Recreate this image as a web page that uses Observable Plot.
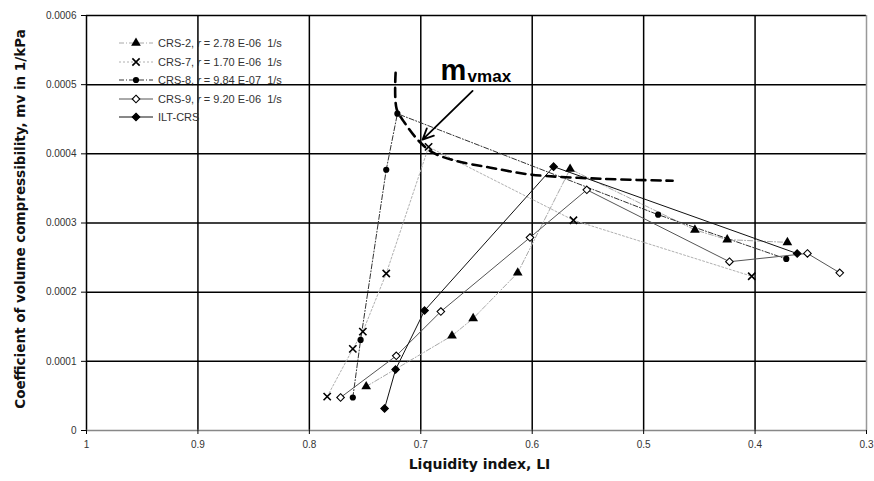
<!DOCTYPE html>
<html>
<head>
<meta charset="utf-8">
<script src="https://cdn.jsdelivr.net/npm/d3@7"></script>
<script src="https://cdn.jsdelivr.net/npm/@observablehq/plot@0.6"></script>
<style>
  html, body { margin: 0; padding: 0; background: #fff; }
  #wrap { position: relative; width: 874px; height: 481px; overflow: hidden; }
  #legend { position: absolute; left: 118px; top: 34px; font-family: "Liberation Sans", Arial, sans-serif; font-size: 11px; color: #333; }
  #legend .row { display: flex; align-items: center; height: 18.5px; white-space: pre; }
  #legend svg { display: block; margin-right: 4px; }
</style>
</head>
<body>
<div id="wrap"><div id="legend"></div></div>
<script>
// ---- axis ticks ----
const xTickValues = [1, 0.9, 0.8, 0.7, 0.6, 0.5, 0.4, 0.3];
const xTickLabels = ["1", "0.9", "0.8", "0.7", "0.6", "0.5", "0.4", "0.3"];
const yTickValues = [0, 0.0001, 0.0002, 0.0003, 0.0004, 0.0005, 0.0006];
const yTickLabels = ["0", "0.0001", "0.0002", "0.0003", "0.0004", "0.0005", "0.0006"];

// ---- series (liquidity index, coefficient of volume compressibility) ----
const crs2LI = [0.749, 0.672, 0.653, 0.613, 0.566, 0.454, 0.425, 0.371];
const crs2Mv = [0.0000636, 0.000137, 0.000162, 0.000228, 0.000378, 0.000290, 0.000276, 0.000272];
const crs7LI = [0.784, 0.761, 0.752, 0.731, 0.693, 0.563, 0.403];
const crs7Mv = [0.000049, 0.000118, 0.000143, 0.000227, 0.000410, 0.000304, 0.000223];
const crs8LI = [0.761, 0.754, 0.731, 0.721, 0.487, 0.372];
const crs8Mv = [0.0000477, 0.000131, 0.000377, 0.000458, 0.000312, 0.000248];
const crs9LI = [0.772, 0.722, 0.682, 0.602, 0.551, 0.423, 0.353, 0.324];
const crs9Mv = [0.0000477, 0.000108, 0.000172, 0.000279, 0.000348, 0.000244, 0.000256, 0.000228];
const iltLI = [0.7325, 0.7226, 0.6966, 0.5808, 0.3622];
const iltMv = [0.0000318, 0.0000881, 0.0001734, 0.0003815, 0.0002558];

// ---- hand-drawn mv_max envelope (dashed) ----
const envLI = [0.7226, 0.7217, 0.7145, 0.702, 0.6894, 0.6688, 0.6373, 0.6014, 0.5386, 0.474];
const envMv = [0.000517, 0.000465, 0.000445, 0.000419, 0.000402, 0.00039, 0.00038, 0.00037, 0.000364, 0.000361];

// ---- annotation ----
const arrowFrom = [0.6535, 0.000491];
const arrowTo = [0.6984, 0.0004205];
const labelAt = [0.6822, 0.000507];

// ---- legend text ----
const seriesNames = ["CRS-2", "CRS-7", "CRS-8", "CRS-9", "ILT-CRS"];
const seriesRates = ["2.78 E-06", "1.70 E-06", "9.84 E-07", "9.20 E-06", null];

const styles = [
  {stroke: "#a8a8a8", dash: "5,2,1,2", symbol: "triangle", fill: "black", mstroke: "none", r: 3.6},
  {stroke: "#b0b0b0", dash: "2,2", symbol: "times", fill: "none", mstroke: "black", r: 3.4},
  {stroke: "#333", dash: "5,2,1,2", symbol: "circle", fill: "black", mstroke: "none", r: 3.1},
  {stroke: "#555", dash: null, symbol: "diamond2", fill: "white", mstroke: "black", r: 3.4},
  {stroke: "#111", dash: null, symbol: "diamond2", fill: "black", mstroke: "black", r: 3.4}
];

const series = [
  [crs2LI, crs2Mv], [crs7LI, crs7Mv], [crs8LI, crs8Mv], [crs9LI, crs9Mv], [iltLI, iltMv]
].map(([li, mv], i) => li.map((d, j) => ({li: d, mv: mv[j], s: seriesNames[i]})));
const env = envLI.map((d, i) => ({li: d, mv: envMv[i]}));

const marks = [
  Plot.gridX(xTickValues.slice(1, -1), {stroke: "black", strokeOpacity: 1, strokeWidth: 1.5}),
  Plot.gridY(yTickValues.slice(1), {stroke: "black", strokeOpacity: 1, strokeWidth: 1.5}),
  Plot.ruleX([xTickValues[xTickValues.length - 1]], {stroke: "#999", strokeWidth: 1.5}),
  Plot.ruleX([xTickValues[0]], {stroke: "black", strokeWidth: 1.5}),
  Plot.ruleY([yTickValues[0]], {stroke: "#888", strokeWidth: 1.5}),
  Plot.axisX({ticks: xTickValues, tickFormat: (d) => xTickLabels[xTickValues.indexOf(d)], tickSize: 4, tickPadding: 6, fontSize: 10, label: null, fill: "#333"}),
  Plot.axisY({ticks: yTickValues, tickFormat: (d) => yTickLabels[yTickValues.indexOf(d)], tickSize: 5, tickPadding: 5, fontSize: 10, label: null, fill: "#333"})
];

series.forEach((data, i) => {
  const st = styles[i];
  marks.push(Plot.line(data, {x: "li", y: "mv", stroke: st.stroke, strokeWidth: 1, strokeDasharray: st.dash || undefined}));
});

marks.push(Plot.line(env, {x: "li", y: "mv", stroke: "black", strokeWidth: 2.6, strokeDasharray: "9,6", curve: "catmull-rom"}));

series.forEach((data, i) => {
  const st = styles[i];
  marks.push(Plot.dot(data, {x: "li", y: "mv", symbol: st.symbol, r: st.r, fill: st.fill, stroke: st.mstroke, strokeWidth: st.symbol === "times" ? 1.6 : 1.1}));
});

marks.push(Plot.arrow([{x1: arrowFrom[0], y1: arrowFrom[1], x2: arrowTo[0], y2: arrowTo[1]}], {x1: "x1", y1: "y1", x2: "x2", y2: "y2", stroke: "black", strokeWidth: 1.8, headLength: 10, headAngle: 50}));
marks.push(Plot.text([0], {x: () => labelAt[0], y: () => labelAt[1], text: () => "m", textAnchor: "start", lineAnchor: "bottom", fontSize: 29, fontWeight: "bold", fontFamily: "Liberation Sans, Arial, sans-serif", fill: "black"}));
marks.push(Plot.text([0], {x: () => labelAt[0], y: () => labelAt[1], text: () => "vmax", textAnchor: "start", lineAnchor: "bottom", dx: 27, dy: 2, fontSize: 17, fontWeight: "bold", fontFamily: "Liberation Sans, Arial, sans-serif", fill: "black"}));

marks.push(Plot.text(["Liquidity index, LI"], {frameAnchor: "bottom", text: d => d, dx: 3, dy: 38, fontSize: 14, fontWeight: "bold", fontFamily: "DejaVu Sans, sans-serif", fill: "#111"}));
marks.push(Plot.text(["Coefficient of volume compressibility, mv in 1/kPa"], {frameAnchor: "left", textAnchor: "middle", text: d => d, rotate: -90, dx: -66, dy: -4, fontSize: 13.5, fontWeight: "bold", fontFamily: "DejaVu Sans, sans-serif", fill: "#111"}));

const chart = Plot.plot({
  width: 874,
  height: 481,
  marginLeft: 86,
  marginRight: 8,
  marginTop: 15,
  marginBottom: 51,
  style: {fontFamily: "Liberation Sans, Arial, sans-serif", background: "white", overflow: "visible"},
  x: {domain: [1, 0.3]},
  y: {domain: [0, 0.0006]},
  marks
});
document.getElementById("wrap").prepend(chart);

// ---- legend (HTML overlay) ----
const symMap = {triangle: d3.symbolTriangle, times: d3.symbolTimes, circle: d3.symbolCircle, diamond2: d3.symbolDiamond2};
const legend = d3.select("#legend");
seriesNames.forEach((name, i) => {
  const st = styles[i];
  const row = legend.append("div").attr("class", "row");
  const svg = row.append("svg").attr("width", 36).attr("height", 12);
  svg.append("line").attr("x1", 1).attr("x2", 35).attr("y1", 6).attr("y2", 6)
    .attr("stroke", st.stroke).attr("stroke-width", 1).attr("stroke-dasharray", st.dash || null);
  svg.append("path").attr("transform", "translate(18,6)")
    .attr("d", d3.symbol(symMap[st.symbol], Math.PI * st.r * st.r)())
    .attr("fill", st.fill).attr("stroke", st.mstroke).attr("stroke-width", st.symbol === "times" ? 1.6 : 1.1);
  const label = row.append("span");
  if (seriesRates[i]) {
    label.append("span").text(name + ", ");
    label.append("i").text("r");
    label.append("span").text(" = " + seriesRates[i] + "  1/s");
  } else {
    label.text(name);
  }
});
</script>
</body>
</html>
